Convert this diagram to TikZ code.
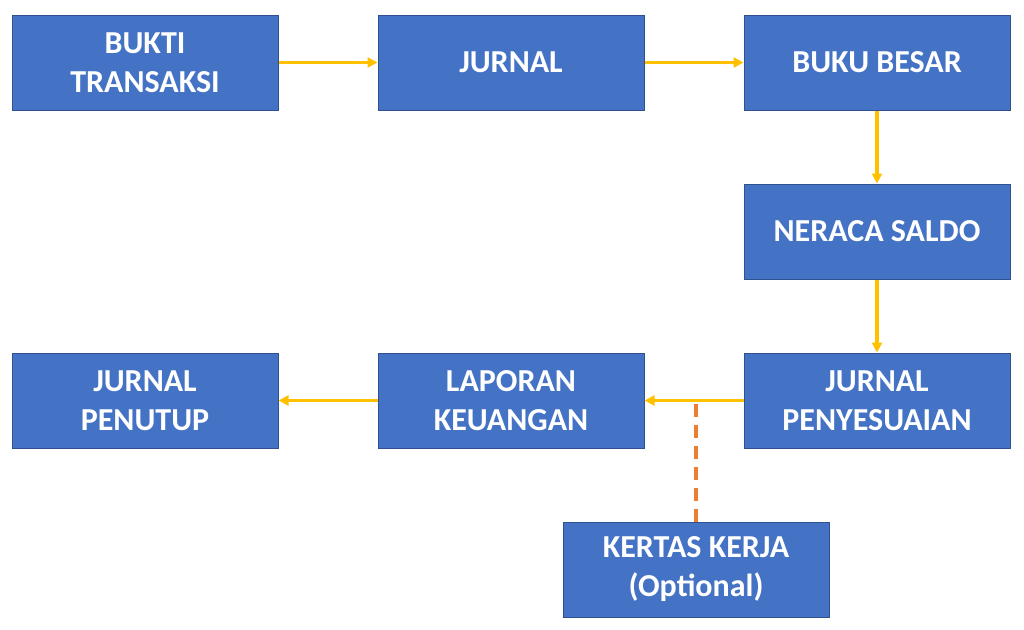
\documentclass[tikz,border=0pt]{standalone}
\usepackage{fontspec}
\setmainfont{Carlito}
\usepackage{xcolor}
\usepackage{tikz}
\usetikzlibrary{arrows.meta,positioning}

\definecolor{boxblue}{HTML}{4472C4}
\definecolor{boxedge}{HTML}{2F528F}
\definecolor{flowyellow}{HTML}{FFC000}
\definecolor{optorange}{HTML}{ED7D31}

\begin{document}
\begin{tikzpicture}[
  x=1pt,y=-1pt,
  box/.style={draw=boxedge,line width=1pt,fill=boxblue,text=white,font=\fontsize{32}{39}\selectfont\bfseries,align=center,minimum width=266pt,minimum height=95pt,inner sep=0pt},
  flow/.style={draw=flowyellow,line width=3.2pt,-{Triangle[length=10pt,width=10pt]}},
  opt/.style={draw=optorange,line width=3.4pt,dash pattern=on 13pt off 8pt}
]
  \useasboundingbox (0,0) rectangle (1024,629);

  \node[box] (bukti)   at (145,62.5)  {BUKTI\\TRANSAKSI};
  \node[box] (jurnal)  at (511,62.5)  {JURNAL};
  \node[box] (buku)    at (877,62.5)  {BUKU BESAR};
  \node[box] (neraca)  at (877,231.5) {NERACA SALDO};
  \node[box] (jpenyes) at (877,400.5) {JURNAL\\PENYESUAIAN};
  \node[box] (lapkeu)  at (511,400.5) {LAPORAN\\KEUANGAN};
  \node[box] (jpenut)  at (145,400.5) {JURNAL\\PENUTUP};
  \node[box] (kertas)  at (696,569.5) {KERTAS KERJA\\(Optional)};

  \draw[flow](bukti)--(jurnal); \draw[flow](jurnal)--(buku);
  \draw[flow](buku)--(neraca); \draw[flow](neraca)--(jpenyes);
  \draw[flow](jpenyes)--(lapkeu); \draw[flow](lapkeu)--(jpenut);

  \draw[opt](kertas.north)--(kertas.north |- lapkeu.east);
\end{tikzpicture}
\end{document}
